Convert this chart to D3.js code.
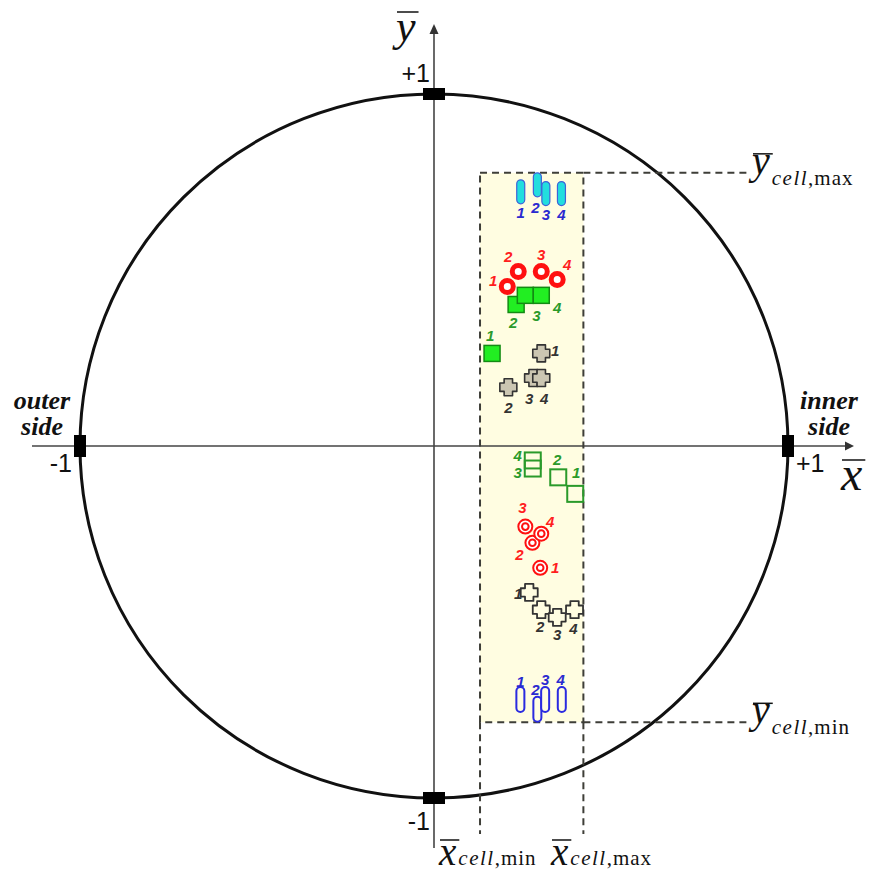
<!DOCTYPE html>
<html>
<head>
<meta charset="utf-8">
<script src="https://cdn.jsdelivr.net/npm/d3@7"></script>
<style>
  html, body { margin: 0; background: #fff; }
  svg { display: block; }
</style>
</head>
<body>
<svg id="chart" width="875" height="878"></svg>
<script>
// ---- data: normalized cross-section coordinates (x̄, ȳ) ----
const caseIds = ["1", "2", "3", "4"];
const axisTickValues = [-1, 1];
const axisTickLabels = ["-1", "+1"];

// cell extents
const cellX = [0.130, 0.422];
const cellY = [-0.785, 0.776];

// upper half of the cell
const cyanCapsules   = [[0.245, 0.722], [0.292, 0.742], [0.316, 0.717], [0.360, 0.717]];
const redRings       = [[0.207, 0.453], [0.238, 0.496], [0.303, 0.496], [0.348, 0.473]];
const greenSquares   = [[0.164, 0.263], [0.232, 0.402], [0.258, 0.428], [0.303, 0.428]];
const grayCrosses    = [[0.303, 0.263], [0.210, 0.167], [0.280, 0.193], [0.303, 0.193]];
// lower half of the cell
const greenOpenSq    = [[0.399, -0.136], [0.351, -0.089], [0.279, -0.064], [0.279, -0.041]];
const redBullseyes   = [[0.300, -0.346], [0.278, -0.275], [0.258, -0.229], [0.303, -0.249]];
const openCrosses    = [[0.269, -0.416], [0.303, -0.465], [0.348, -0.487], [0.397, -0.465]];
const blueCapsules   = [[0.244, -0.720], [0.292, -0.748], [0.314, -0.720], [0.361, -0.720]];

// ---- layout: pixel offsets of the case numbers from their marks ----
const offCyan   = [[0, 21], [-2, 23], [0, 21], [0, 21]];
const offRing   = [[-14, -6], [-10, -15], [0, -17], [10, -15]];
const offGreen  = [[-2, -18], [-3, 18], [11, 20], [16, 12]];
const offGray   = [[14, -3], [0, 20], [-4, 20], [3, 20]];
const offOpenSq = [[1, -21], [-1, -18], [-15, 4], [-15, -5]];
const offBull   = [[15, 0], [-13, 12], [-3, -19], [9, -12]];
const offOpenX  = [[-11, 1], [-1, 17], [0, 17], [-1, 19]];
const offBlue   = [[0, -18], [-2, -20], [0, -20], [-1, -20]];

const svg = d3.select("#chart");
const xs = d3.scaleLinear().domain([-1, 1]).range([80, 788]);
const ys = d3.scaleLinear().domain([-1, 1]).range([798, 94]);
const cx = xs(0), cy = ys(0);

const cellFill = "#fffde1";
const dashCol = "#3e3e38";
const serif = "'Liberation Serif', 'DejaVu Serif', serif";
const sans = "'Liberation Sans', Arial, sans-serif";

// unit circle
svg.append("ellipse")
  .attr("cx", cx).attr("cy", cy)
  .attr("rx", xs(1) - cx).attr("ry", cy - ys(1))
  .attr("fill", "none").attr("stroke", "#111").attr("stroke-width", 3);

// cell rectangle
const bx0 = xs(cellX[0]), bx1 = xs(cellX[1]);
const by0 = ys(cellY[1]), by1 = ys(cellY[0]);
svg.append("rect")
  .attr("x", bx0).attr("y", by0).attr("width", bx1 - bx0).attr("height", by1 - by0)
  .attr("fill", cellFill);

// axes with arrows
const axG = svg.append("g").attr("stroke", "#444").attr("stroke-width", 1.6);
axG.append("line").attr("x1", 32).attr("x2", 847).attr("y1", cy).attr("y2", cy);
axG.append("line").attr("x1", cx).attr("x2", cx).attr("y1", 32).attr("y2", 848);
svg.append("path").attr("d", `M${854},${cy} L${845},${cy - 4.5} L${845},${cy + 4.5} Z`).attr("fill", "#333");
svg.append("path").attr("d", `M${cx},${24} L${cx - 4.5},${34} L${cx + 4.5},${34} Z`).attr("fill", "#333");

// dashed cell border and extension lines
const dash = svg.append("g").attr("stroke", dashCol).attr("stroke-width", 2)
  .attr("stroke-dasharray", "7,5").attr("fill", "none");
dash.append("rect").attr("x", bx0).attr("y", by0).attr("width", bx1 - bx0).attr("height", by1 - by0);
dash.append("line").attr("x1", bx1).attr("x2", 750).attr("y1", by0).attr("y2", by0);
dash.append("line").attr("x1", bx1).attr("x2", 750).attr("y1", by1).attr("y2", by1);
dash.append("line").attr("x1", bx0).attr("x2", bx0).attr("y1", by1).attr("y2", 834);
dash.append("line").attr("x1", bx1).attr("x2", bx1).attr("y1", by1).attr("y2", 834);

// black tick blocks at ±1
axisTickValues.forEach(v => {
  svg.append("rect").attr("x", cx - 11).attr("y", ys(v) - 6).attr("width", 22).attr("height", 12).attr("fill", "#000");
  svg.append("rect").attr("x", xs(v) - 6).attr("y", cy - 11).attr("width", 12).attr("height", 22).attr("fill", "#000");
});
// tick labels
const tickTxt = (x, y, t, anchor) => svg.append("text").attr("x", x).attr("y", y)
  .attr("text-anchor", anchor).attr("font-family", sans).attr("font-size", 25).attr("fill", "#111").text(t);
tickTxt(cx - 4, ys(1) - 12, axisTickLabels[1], "end");
tickTxt(cx - 4, ys(-1) + 32, axisTickLabels[0], "end");
tickTxt(xs(-1) - 8, cy + 26, axisTickLabels[0], "end");
tickTxt(xs(1) + 8, cy + 26, axisTickLabels[1], "start");

// side captions
[["outer", "side", 42], ["inner", "side", 829]].forEach(([a, b, x]) => {
  const t = svg.append("text").attr("text-anchor", "middle").attr("font-family", serif)
    .attr("font-size", 26).attr("font-weight", "bold").attr("font-style", "italic").attr("fill", "#111");
  t.append("tspan").attr("x", x).attr("y", 409).text(a);
  t.append("tspan").attr("x", x).attr("y", 435).text(b);
});

// math symbols with overline: letter, optional subscript and tail
function mathLabel(x, y, letter, size, sub, tail, subSize, subDy, olDy) {
  const t = svg.append("text").attr("x", x).attr("y", y).attr("font-family", serif).attr("fill", "#111");
  t.append("tspan").attr("font-size", size).attr("font-style", "italic").text(letter);
  if (sub) {
    t.append("tspan").attr("font-size", subSize).attr("font-style", "italic")
      .attr("dx", 2).attr("dy", subDy).attr("letter-spacing", 1.5).text(sub);
    t.append("tspan").attr("font-size", subSize).attr("letter-spacing", 1).text(tail);
  }
  const e = t.node().getExtentOfChar(0);
  svg.append("line").attr("x1", e.x + 1).attr("x2", e.x + e.width + 3)
    .attr("y1", y + olDy).attr("y2", y + olDy).attr("stroke", "#111").attr("stroke-width", 1.5);
}
mathLabel(396, 41, "y", 44, null, null, 0, 0, -29);
mathLabel(841, 490, "x", 48, null, null, 0, 0, -30);
mathLabel(439, 865, "x", 39, "cell", ",min", 21, 0, -25);
mathLabel(551, 865, "x", 39, "cell", ",max", 21, 0, -25);
mathLabel(752, by0 + 1, "y", 40, "cell", ",max", 21, 11, -20);
mathLabel(752, by1 + 1, "y", 40, "cell", ",min", 21, 11, -20);

// ---- marks ----
function crossPath(s, a) {
  return `M${-a},${-s}H${a}V${-a}H${s}V${a}H${a}V${s}H${-a}V${a}H${-s}V${-a}H${-a}Z`;
}
const marks = svg.append("g");
function group(data, offs, color, drawMark) {
  data.forEach(d => {
    const g = marks.append("g").attr("transform", `translate(${xs(d[0])},${ys(d[1])})`);
    drawMark(g);
  });
  data.forEach((d, i) => {
    marks.append("text")
      .attr("x", xs(d[0]) + offs[i][0]).attr("y", ys(d[1]) + offs[i][1])
      .attr("text-anchor", "middle").attr("dominant-baseline", "central")
      .attr("font-family", sans).attr("font-size", 15).attr("font-weight", "bold")
      .attr("font-style", "italic").attr("fill", color).text(caseIds[i]);
  });
}

group(cyanCapsules, offCyan, "#2a2ad0", g => g.append("rect")
  .attr("x", -4).attr("y", -12).attr("width", 8).attr("height", 24).attr("rx", 4)
  .attr("fill", "#22dede").attr("stroke", "#3f63d8").attr("stroke-width", 1.2));

group(redRings, offRing, "#ff1e1e", g => g.append("circle")
  .attr("r", 6).attr("fill", "#fff").attr("stroke", "#ff1010").attr("stroke-width", 5));

group(greenSquares, offGreen, "#2a9a2a", g => g.append("rect")
  .attr("x", -8).attr("y", -8).attr("width", 16).attr("height", 16)
  .attr("fill", "#22ee22").attr("stroke", "#138a13").attr("stroke-width", 1.5));

group(grayCrosses, offGray, "#333", g => g.append("path")
  .attr("d", crossPath(8.5, 4.2)).attr("fill", "#cbc6b2").attr("stroke", "#333")
  .attr("stroke-width", 1.6).attr("stroke-linejoin", "round"));

group(greenOpenSq, offOpenSq, "#2a9a2a", g => g.append("rect")
  .attr("x", -8).attr("y", -8).attr("width", 16).attr("height", 16)
  .attr("fill", "none").attr("stroke", "#2a9a2a").attr("stroke-width", 2));

group(redBullseyes, offBull, "#ff1e1e", g => {
  g.append("circle").attr("r", 7).attr("fill", "#fff").attr("stroke", "#ff1010").attr("stroke-width", 2);
  g.append("circle").attr("r", 3.3).attr("fill", "#fff").attr("stroke", "#ff1010").attr("stroke-width", 2);
});

group(openCrosses, offOpenX, "#333", g => g.append("path")
  .attr("d", crossPath(8.5, 4.2)).attr("fill", cellFill).attr("stroke", "#333")
  .attr("stroke-width", 1.8).attr("stroke-linejoin", "round"));

group(blueCapsules, offBlue, "#2a2ad0", g => g.append("rect")
  .attr("x", -4).attr("y", -12.5).attr("width", 8).attr("height", 25).attr("rx", 4)
  .attr("fill", cellFill).attr("stroke", "#2a2ae0").attr("stroke-width", 2));
</script>
</body>
</html>
